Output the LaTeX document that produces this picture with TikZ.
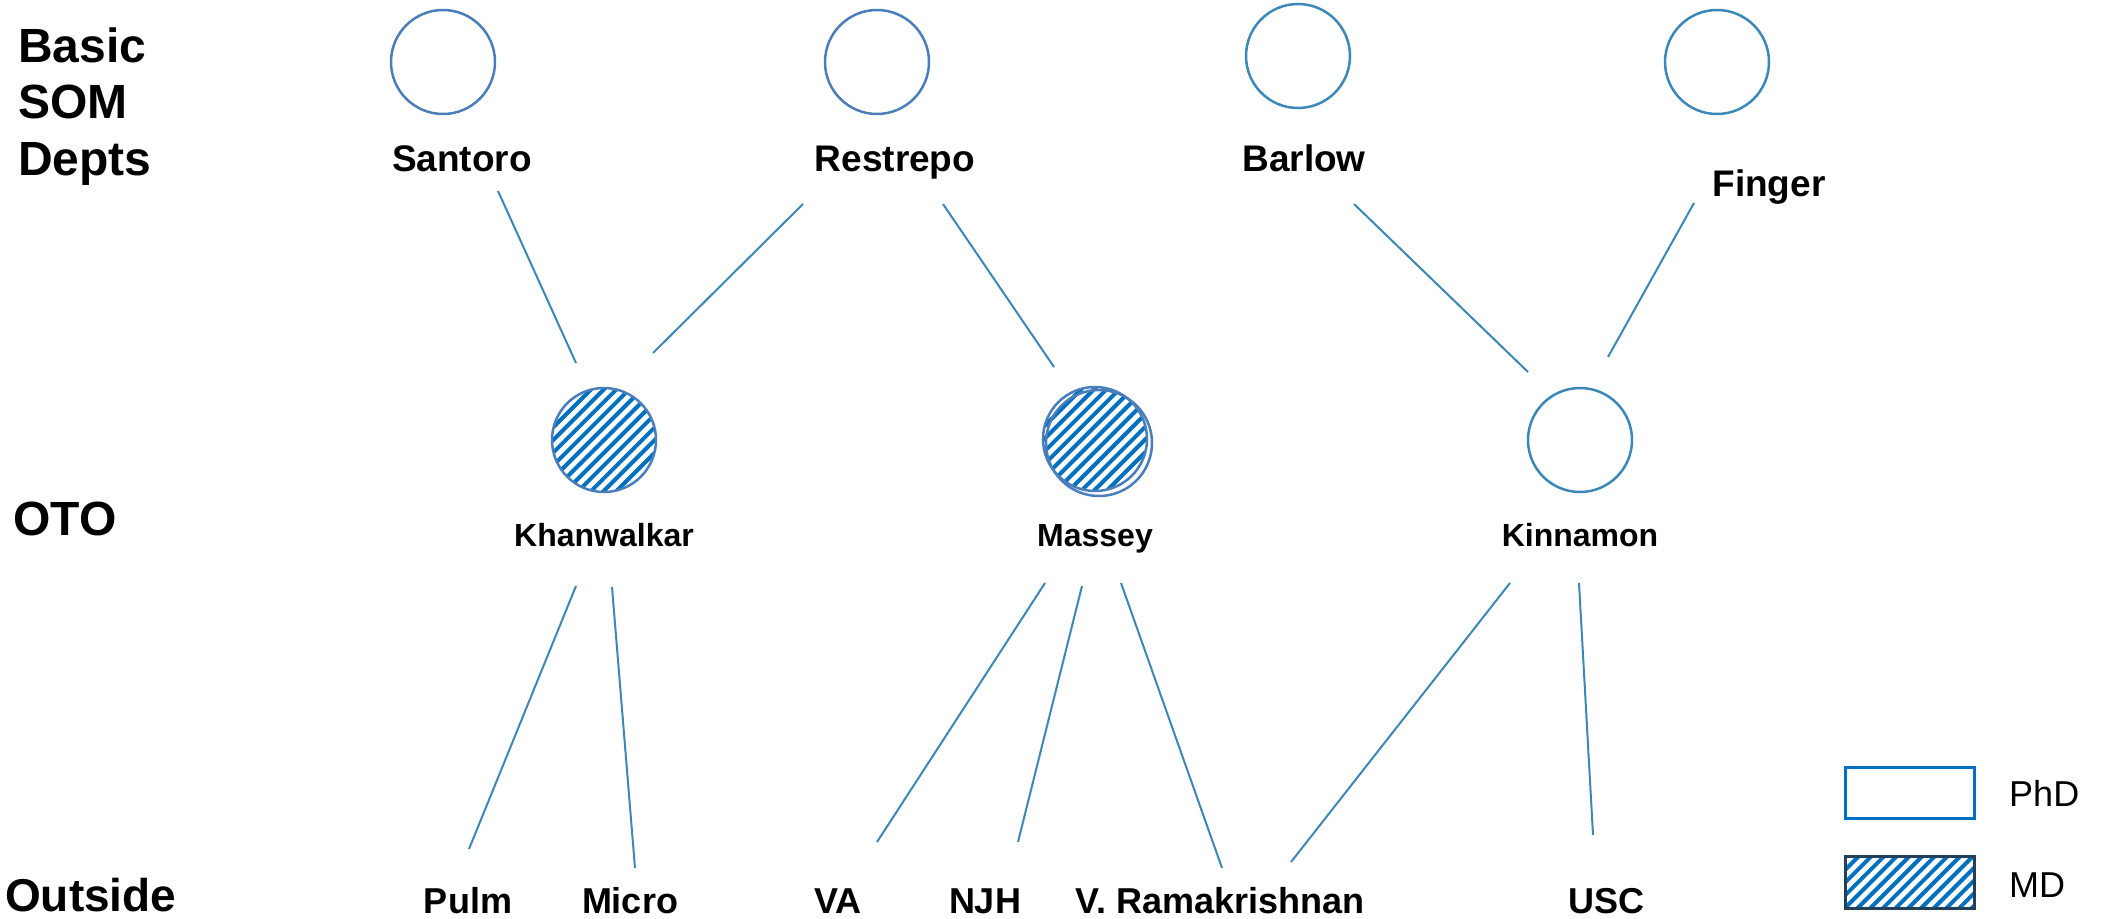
\documentclass[tikz,border=0pt]{standalone}
\usepackage{fontspec}
\setmainfont{Liberation Sans}
\definecolor{circA}{HTML}{4A7EBB}
\definecolor{circB}{HTML}{3B88B8}
\definecolor{linkc}{HTML}{3D87B5}
\definecolor{hatchc}{HTML}{0070C0}
\definecolor{mdframe}{HTML}{243F5A}
\tikzset{
  phdA/.style={circle, draw=circA, line width=2.5pt, minimum size=104pt, inner sep=0pt},
  phdB/.style={circle, draw=circB, line width=2.5pt, minimum size=104pt, inner sep=0pt},
  hatchline/.style={draw=hatchc, line width=4pt},
  link/.style={draw=linkc, line width=2pt},
  rowlab/.style={font=\fontsize{48}{56.5}\selectfont\bfseries, inner sep=0pt, anchor=base west},
  toplab/.style={font=\fontsize{37}{40}\selectfont\bfseries, inner sep=0pt, anchor=base},
  otolab/.style={font=\fontsize{32}{36}\selectfont\bfseries, inner sep=0pt, anchor=base},
  botlab/.style={font=\fontsize{36}{40}\selectfont\bfseries, inner sep=0pt, anchor=base},
  leglab/.style={font=\fontsize{36}{40}\selectfont, inner sep=0pt, anchor=base west},
}
\begin{document}
\begin{tikzpicture}[x=1pt, y=-1pt]
\useasboundingbox (0,0) rectangle (2106,918);
% row labels
\node[rowlab, align=left] (rowbasic) at (18,175) {Basic\\SOM\\Depts};
\node[rowlab] (rowoto) at (13,535) {OTO};
\node[rowlab, font=\fontsize{46}{56.5}\selectfont\bfseries] (rowout) at (5,911) {Outside};
% top circles
\node[phdA] (santoroC) at (443,62) {};
\node[phdA] (restrepoC) at (877,62) {};
\node[phdB] (barlowC) at (1298,56) {};
\node[phdB] (fingerC) at (1717,62) {};
\node[toplab] (santoro) at (462,171) {Santoro};
\node[toplab] (restrepo) at (895,171) {Restrepo};
\node[toplab] (barlow) at (1304,171) {Barlow};
\node[toplab] (finger) at (1769,196) {Finger};
% OTO circles
\foreach \cx/\cy in {604/440, 1095/439}{
  \begin{scope}
    \clip (\cx,\cy) circle[radius=51pt];
    \foreach \i in {-10,...,10}{
      \draw[hatchline] (\cx+\i*12.7-80,\cy+80) -- ++(160,-160);
    }
  \end{scope}
}
\node[phdA] (khanC) at (604,440) {};
\node[phdA] (masseyC) at (1095,439) {};
\draw[draw=circA, line width=2.5pt] ([shift={(4,4)}]masseyC.center) circle[radius=53pt];
\node[phdB] (kinnC) at (1580,440) {};
\node[otolab] (khan) at (604,546) {Khanwalkar};
\node[otolab] (massey) at (1095,546) {Massey};
\node[otolab] (kinn) at (1580,546) {Kinnamon};
% bottom labels
\node[botlab] (pulm) at (468,913) {Pulm};
\node[botlab] (micro) at (630,913) {Micro};
\node[botlab] (va) at (838,913) {VA};
\node[botlab] (njh) at (985,913) {NJH};
\node[botlab] (vr) at (1220,913) {V. Ramakrishnan};
\node[botlab] (usc) at (1606,913) {USC};
% connectors top
\draw[link] ([shift={(36,20)}]santoro.base) -- ([shift={(-28,-77)}]khanC.center);
\draw[link] ([shift={(-92,33)}]restrepo.base) -- ([shift={(49,-87)}]khanC.center);
\draw[link] ([shift={(48,33)}]restrepo.base) -- ([shift={(-41,-72)}]masseyC.center);
\draw[link] ([shift={(50,33)}]barlow.base) -- ([shift={(-52,-68)}]kinnC.center);
\draw[link] ([shift={(-75,7)}]finger.base) -- ([shift={(28,-83)}]kinnC.center);
% connectors bottom
\draw[link] ([shift={(-28,40)}]khan.base) -- ([shift={(1,-64)}]pulm.base);
\draw[link] ([shift={(8,41)}]khan.base) -- ([shift={(5,-45)}]micro.base);
\draw[link] ([shift={(-50,37)}]massey.base) -- ([shift={(39,-71)}]va.base);
\draw[link] ([shift={(-13,40)}]massey.base) -- ([shift={(33,-71)}]njh.base);
\draw[link] ([shift={(26,37)}]massey.base) -- ([shift={(2,-45)}]vr.base);
\draw[link] ([shift={(-70,37)}]kinn.base) -- ([shift={(71,-51)}]vr.base);
\draw[link] ([shift={(-1,37)}]kinn.base) -- ([shift={(-13,-78)}]usc.base);
% legend
\node[draw=hatchc, line width=3pt, minimum width=129pt, minimum height=51pt, inner sep=0pt] (legphd) at (1909.5,792.5) {};
\begin{scope}
  \clip (1845,856) rectangle (1974,908);
  \foreach \i in {-8,...,14}{
    \draw[hatchline] (1845+\i*12.7-60,908+60) -- ++(120,-120);
  }
\end{scope}
\node[draw=mdframe, line width=3pt, minimum width=129pt, minimum height=52pt, inner sep=0pt] (legmd) at (1909.5,882) {};
\node[leglab] (legphdt) at (2009,806) {PhD};
\node[leglab] (legmdt) at (2009,897) {MD};
\end{tikzpicture}
\end{document}
